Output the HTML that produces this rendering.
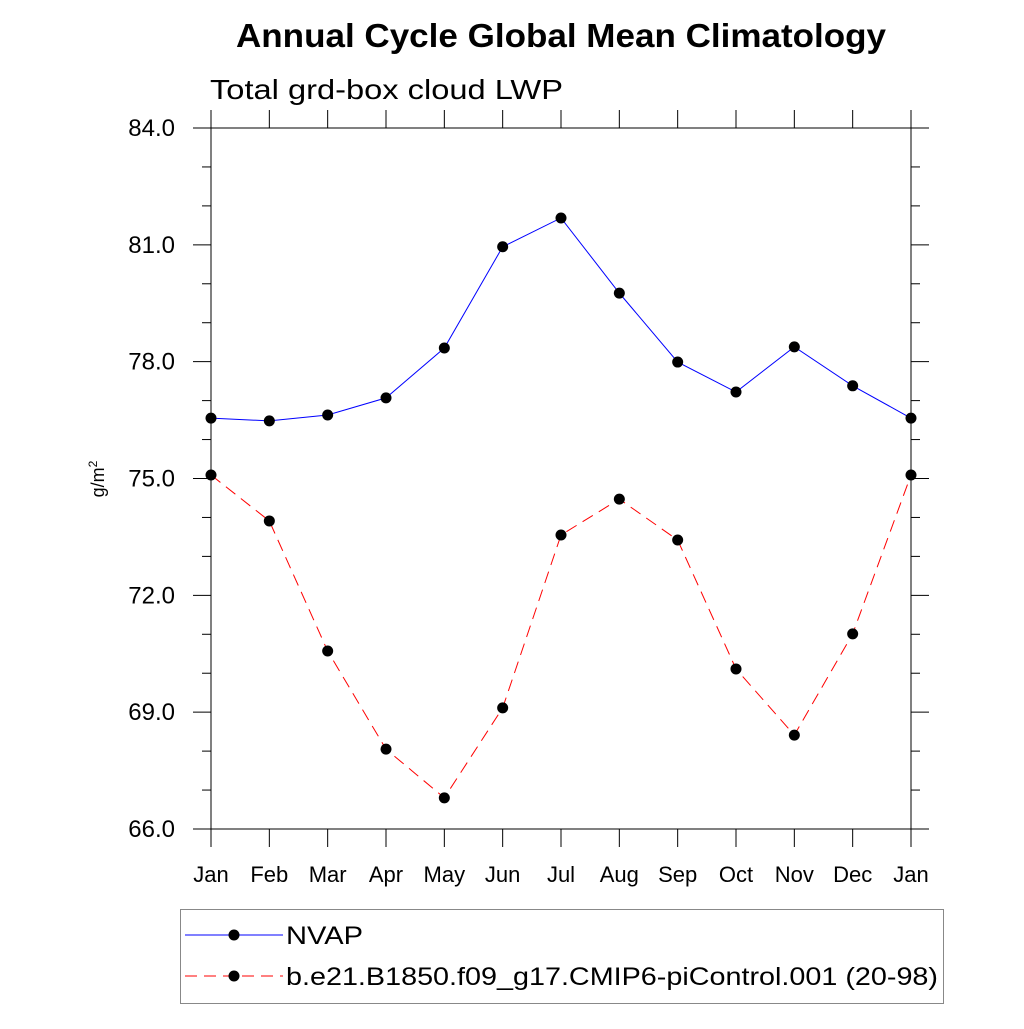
<!DOCTYPE html>
<html><head><style>
body{margin:0;background:#fff;}
svg text{font-family:"Liberation Sans",sans-serif;}
</style></head><body>
<svg id="chart" width="1024" height="1024" xmlns="http://www.w3.org/2000/svg">
<text x="236" y="47" font-size="33" font-weight="bold" textLength="650" lengthAdjust="spacingAndGlyphs">Annual Cycle Global Mean Climatology</text>
<text x="210" y="99" font-size="28" textLength="353" lengthAdjust="spacingAndGlyphs">Total grd-box cloud LWP</text>
<text transform="translate(104,479) rotate(-90)" font-size="18" text-anchor="middle">g/m<tspan dy="-7" font-size="12">2</tspan></text>
<g id="axes"></g>
<g id="series"></g>
<g>
<rect x="180.5" y="909.5" width="763" height="94" fill="none" stroke="#888" stroke-width="1"/>
<g>
<line x1="185" y1="935" x2="283" y2="935" stroke="#0000ff" stroke-width="1"/>
<circle cx="234" cy="935" r="5.5" fill="#000"/>
<text x="286" y="944" font-size="25" textLength="77" lengthAdjust="spacingAndGlyphs">NVAP</text></g>
<g>
<line x1="185" y1="976" x2="283" y2="976" stroke="#ff0000" stroke-width="1" stroke-dasharray="12,7"/>
<circle cx="234" cy="976" r="5.5" fill="#000"/>
<text x="286" y="985" font-size="25" textLength="652" lengthAdjust="spacingAndGlyphs">b.e21.B1850.f09_g17.CMIP6-piControl.001 (20-98)</text></g>
</g>
</svg>
<script>
const months=["Jan","Feb","Mar","Apr","May","Jun","Jul","Aug","Sep","Oct","Nov","Dec","Jan"];
const nvap=[76.55,76.48,76.63,77.07,78.35,80.95,81.69,79.76,77.99,77.22,78.38,77.38,76.55];
const model=[75.09,73.91,70.57,68.05,66.80,69.11,73.55,74.47,73.42,70.11,68.41,71.01,75.09];
const yTicks=[66,69,72,75,78,81,84];
const yTickLabels=["66.0","69.0","72.0","75.0","78.0","81.0","84.0"];
const NS="http://www.w3.org/2000/svg";
const L=211,R=911,T=128,B=829,ymin=66,ymax=84;
const xs=i=>L+(R-L)*i/(months.length-1);
const ys=v=>B-(B-T)*(v-ymin)/(ymax-ymin);
function mk(tag,attrs,parent){const e=document.createElementNS(NS,tag);for(const k in attrs)e.setAttribute(k,attrs[k]);parent.appendChild(e);return e;}
const ax=document.getElementById('axes');
const frame=mk('rect',{x:L,y:T,width:R-L,height:B-T,fill:'none',stroke:'#000','stroke-width':1},ax);


for(let v=ymin;v<=ymax;v+=1){
  const major=yTicks.includes(v);const y=ys(v);const len=major?18:9;
  mk('line',{x1:L-len,y1:y,x2:L,y2:y,stroke:'#000','stroke-width':1},ax);
  mk('line',{x1:R,y1:y,x2:R+len,y2:y,stroke:'#000','stroke-width':1},ax);
}
yTicks.forEach((v,i)=>{
  const t=mk('text',{x:175,y:ys(v)+8,'font-size':24,'text-anchor':'end'},ax);
  t.textContent=yTickLabels[i];
  
  
});
months.forEach((m,i)=>{
  const x=xs(i);
  mk('line',{x1:x,y1:B,x2:x,y2:B+18,stroke:'#000','stroke-width':1},ax);
  mk('line',{x1:x,y1:T-18,x2:x,y2:T,stroke:'#000','stroke-width':1},ax);
  const t=mk('text',{x:x,y:882,'font-size':22,'text-anchor':'middle'},ax);
  t.textContent=m;
  
  
});
const sg=document.getElementById('series');
function series(data,color,dash,name){
  const g=mk('g',{},sg);
  
  
  const pts=data.map((v,i)=>xs(i)+','+ys(v)).join(' ');
  const a={points:pts,fill:'none',stroke:color,'stroke-width':1};
  if(dash)a['stroke-dasharray']=dash;
  mk('polyline',a,g);
  data.forEach((v,i)=>{
    const c=mk('circle',{cx:xs(i),cy:ys(v),r:5.5,fill:'#000'},g);
    
    
  });
}
series(nvap,'#0000ff',null,'series-nvap');
series(model,'#ff0000','12,7','series-model');
</script>
</body></html>
